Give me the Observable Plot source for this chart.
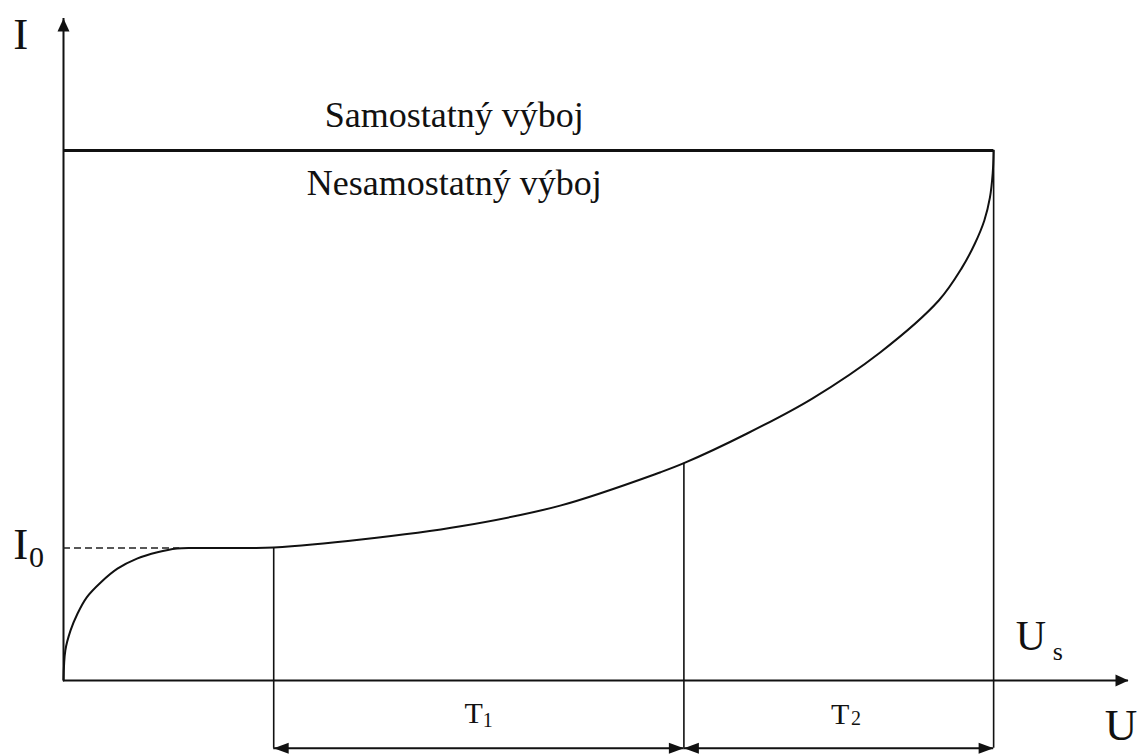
<!DOCTYPE html>
<html>
<head>
<meta charset="utf-8">
<script src="https://cdn.jsdelivr.net/npm/d3@7"></script>
<script src="https://cdn.jsdelivr.net/npm/@observablehq/plot@0.6"></script>
<style>
  body { margin: 0; background: #fff; font-family: "Liberation Serif", serif; }
  #chart svg text { font-family: "Liberation Serif", serif !important; }
</style>
</head>
<body>
<div id="chart"></div>
<script>
// Volt-ampere characteristic of a gas discharge.
// U in % of the breakdown voltage Us, I in % of the current where the discharge becomes self-sustaining.
const voltage = [0, 0.2, 0.75, 1.5, 2.5, 4, 5.8, 7.9, 10.1, 12.2, 14, 20, 22.6, 32, 42.7, 53.4, 64.2, 66.7, 73.5, 80.5, 87.8, 94.1, 96.6, 98, 99, 99.6, 99.9, 100];
const current = [0, 5.7, 9.4, 12.6, 15.7, 18.5, 21.1, 23, 24.2, 24.9, 25, 25, 25.1, 26.6, 29.1, 33, 39.3, 41, 46.6, 53.2, 61.9, 71.7, 77.9, 82.5, 86.8, 91.1, 95.7, 100];

const I0 = 25;          // saturation current
const U1 = 22.6;        // start of region T1
const U2 = 66.7;        // start of region T2
const Us = 100;         // breakdown voltage
const Iself = 100;      // boundary of the self-sustaining discharge
const uMax = 114.5;     // end of the U axis
const iMax = 124.9;     // end of the I axis
const spanRow = -12.8;  // level of the dimension arrows under the U axis

// Text labels (base letters and their subscripts)
const axisLetters = [
  {text: "I", u: -4.6, i: 121.9},
  {text: "I", u: -4.6, i: 25.7},
  {text: "U", u: 113.7, i: -8.5}
];
const usLetter = [{text: "U", u: 104, i: 8.3}];
const usSub = [{text: "s", u: 106.9, i: 5.4}];
const i0Sub = [{text: "0", u: -2.9, i: 23.2}];
const regionLabels = [
  {text: "Samostatný výboj", u: 42, i: 106.6},
  {text: "Nesamostatný výboj", u: 42, i: 93.8}
];
const spanLetters = [
  {text: "T", u: 44.1, i: -6.2},
  {text: "T", u: 83.5, i: -6.4}
];
const spanSubs = [
  {text: "1", u: 45.6, i: -7.5},
  {text: "2", u: 85.2, i: -7.2}
];

const curveData = voltage.map((u, k) => ({u, i: current[k]}));
const currentAt = (u) => current[voltage.indexOf(u)];
const bounds = [U1, U2, Us].map(u => ({u, i: u === Us ? Iself : currentAt(u)}));
const spans = [{a: U1, b: U2}, {a: U2, b: Us}];
const spanHeads = spans.flatMap(s => [{u: s.a, dir: -90}, {u: s.b, dir: 90}]);
const axisHeads = [{u: 0, i: iMax, dir: 0}, {u: uMax, i: 0, dir: 90}];

const serif = "Liberation Serif";
const label = (data, size) => Plot.text(data, {
  x: "u", y: "i", text: "text", fontSize: size, fontFamily: serif,
  textAnchor: "middle", lineAnchor: "middle", fill: "#111", stroke: "none"
});

const chart = Plot.plot({
  width: 1144,
  height: 754,
  marginLeft: 63,
  marginRight: 16,
  marginTop: 18,
  marginBottom: 74,
  style: {fontFamily: serif},
  x: {domain: [0, uMax], axis: null},
  y: {domain: [0, iMax], axis: null},
  marks: [
    // axes
    Plot.ruleY([0], {x1: 0, x2: uMax, stroke: "#111", strokeWidth: 2}),
    Plot.ruleX([0], {y1: 0, y2: iMax, stroke: "#111", strokeWidth: 2}),
    Plot.vector(axisHeads, {x: "u", y: "i", rotate: "dir", length: 13, r: 6, shape: "spike", anchor: "end", fill: "#111", stroke: "none"}),
    // boundary between non-self-sustaining and self-sustaining discharge
    Plot.ruleY([Iself], {x1: 0, x2: Us, stroke: "#111", strokeWidth: 3}),
    // saturation current level
    Plot.ruleY([I0], {x1: 0, x2: 12.5, stroke: "#222", strokeWidth: 1.4, strokeDasharray: "7,4"}),
    // region boundaries
    Plot.ruleX(bounds, {x: "u", y1: "i", y2: spanRow, stroke: "#111", strokeWidth: 1.6}),
    // dimension arrows T1, T2
    Plot.ruleY(spans, {y: () => spanRow, x1: "a", x2: "b", stroke: "#111", strokeWidth: 2}),
    Plot.vector(spanHeads, {x: "u", y: () => spanRow, rotate: "dir", length: 15, r: 5.5, shape: "spike", anchor: "end", fill: "#111", stroke: "none"}),
    // characteristic
    Plot.line(curveData, {x: "u", y: "i", curve: "catmull-rom", stroke: "#111", strokeWidth: 2}),
    // texts
    label(axisLetters, 45),
    label(usLetter, 42),
    label(usSub, 26),
    label(i0Sub, 30),
    label(regionLabels, 36),
    label(spanLetters, 30),
    label(spanSubs, 20)
  ]
});

d3.select(chart).selectAll("text").style("font-family", "'Liberation Serif', serif");
document.getElementById("chart").append(chart);
</script>
</body>
</html>
